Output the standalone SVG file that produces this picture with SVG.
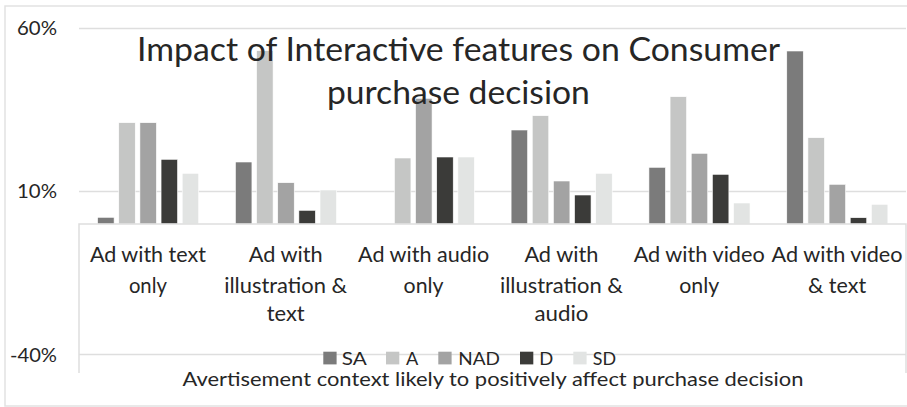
<svg xmlns="http://www.w3.org/2000/svg" width="907" height="407" viewBox="0 0 907 407">
<style>
  .frame{fill:none;stroke:#e2e2e2;stroke-width:1.5}
  .grid{stroke:#dedede;stroke-width:1.5;fill:none}
  .t{font-family:Lato,"Liberation Sans",sans-serif;fill:#262626}
  .title{font-size:32px;text-anchor:middle}
  .ax{font-size:18.5px;text-anchor:end}
  .cat{font-size:21px;text-anchor:middle}
  .leg{font-size:17.5px}
  .sa{fill:#7b7b7b}
  .a{fill:#c5c6c5}
  .nad{fill:#a3a3a3}
  .d{fill:#3b3b39}
  .sd{fill:#e2e4e3}
  .bar{stroke:#ffffff;stroke-width:0.6}
</style>
<rect x="0" y="0" width="907" height="407" fill="#ffffff"/>
<rect class="frame" x="5" y="6" width="910" height="400"/>

<g id="gridlines">
  <line class="grid" x1="79" y1="28.5" x2="906" y2="28.5"/>
  <line class="grid" x1="79" y1="191.5" x2="906" y2="191.5"/>
</g>

<g id="axis-labels">
  <text class="t ax" x="57" y="35" textLength="40" lengthAdjust="spacingAndGlyphs">60%</text>
  <text class="t ax" x="57" y="198.3" textLength="40" lengthAdjust="spacingAndGlyphs">10%</text>
  <text class="t ax" x="57" y="361.7" textLength="47" lengthAdjust="spacingAndGlyphs">-40%</text>
</g>

<g id="bars">
  <g id="cat-text-only">
    <rect class="bar sa" x="97.6" y="217.3" width="16.5" height="6.7"/>
    <rect class="bar a" x="118.75" y="122.7" width="16.5" height="101.3"/>
    <rect class="bar nad" x="139.9" y="122.7" width="16.5" height="101.3"/>
    <rect class="bar d" x="161.05" y="159.3" width="16.5" height="64.7"/>
    <rect class="bar sd" x="182.2" y="173.3" width="16.5" height="50.7"/>
  </g>
  <g id="cat-illustration-text">
    <rect class="bar sa" x="235.43" y="162" width="16.5" height="62"/>
    <rect class="bar a" x="256.58" y="50.7" width="16.5" height="173.3"/>
    <rect class="bar nad" x="277.73" y="182.7" width="16.5" height="41.3"/>
    <rect class="bar d" x="298.88" y="210.3" width="16.5" height="13.7"/>
    <rect class="bar sd" x="320.03" y="190" width="16.5" height="34"/>
  </g>
  <g id="cat-audio-only">
    <rect class="bar a" x="394.42" y="158" width="16.5" height="66"/>
    <rect class="bar nad" x="415.57" y="98.3" width="16.5" height="125.7"/>
    <rect class="bar d" x="436.72" y="157" width="16.5" height="67"/>
    <rect class="bar sd" x="457.87" y="157" width="16.5" height="67"/>
  </g>
  <g id="cat-illustration-audio">
    <rect class="bar sa" x="511.1" y="130" width="16.5" height="94"/>
    <rect class="bar a" x="532.25" y="115.7" width="16.5" height="108.3"/>
    <rect class="bar nad" x="553.4" y="181" width="16.5" height="43"/>
    <rect class="bar d" x="574.55" y="195" width="16.5" height="29"/>
    <rect class="bar sd" x="595.7" y="173.3" width="16.5" height="50.7"/>
  </g>
  <g id="cat-video-only">
    <rect class="bar sa" x="648.93" y="167.3" width="16.5" height="56.7"/>
    <rect class="bar a" x="670.08" y="96.7" width="16.5" height="127.3"/>
    <rect class="bar nad" x="691.23" y="153.3" width="16.5" height="70.7"/>
    <rect class="bar d" x="712.38" y="174.3" width="16.5" height="49.7"/>
    <rect class="bar sd" x="733.53" y="203" width="16.5" height="21"/>
  </g>
  <g id="cat-video-text">
    <rect class="bar sa" x="786.77" y="51" width="16.5" height="173"/>
    <rect class="bar a" x="807.92" y="137.7" width="16.5" height="86.3"/>
    <rect class="bar nad" x="829.07" y="184.3" width="16.5" height="39.7"/>
    <rect class="bar d" x="850.22" y="217.7" width="16.5" height="6.3"/>
    <rect class="bar sd" x="871.37" y="204.3" width="16.5" height="19.7"/>
  </g>
</g>

<g id="title">
  <text class="t title" x="458.6" y="61" textLength="643" lengthAdjust="spacingAndGlyphs">Impact of Interactive features on Consumer</text>
  <text class="t title" x="458.4" y="104" textLength="263" lengthAdjust="spacingAndGlyphs">purchase decision</text>
</g>

<g id="category-box">
  <rect x="79" y="224" width="827" height="149" fill="#ffffff"/>
  <path class="grid" d="M79,373 V224 H906 V373"/>
  <line class="grid" x1="79" y1="354.5" x2="906" y2="354.5"/>
</g>

<g id="category-labels">
  <text class="t cat" x="147.9" y="261.7" textLength="116" lengthAdjust="spacingAndGlyphs">Ad with text</text>
  <text class="t cat" x="147.9" y="292.7" textLength="38" lengthAdjust="spacingAndGlyphs">only</text>

  <text class="t cat" x="285.7" y="261.7" textLength="74" lengthAdjust="spacingAndGlyphs">Ad with</text>
  <text class="t cat" x="285.7" y="292.7" textLength="123" lengthAdjust="spacingAndGlyphs">illustration &amp;</text>
  <text class="t cat" x="285.7" y="320.5" textLength="38" lengthAdjust="spacingAndGlyphs">text</text>

  <text class="t cat" x="423.6" y="261.7" textLength="131" lengthAdjust="spacingAndGlyphs">Ad with audio</text>
  <text class="t cat" x="423.6" y="292.7" textLength="40" lengthAdjust="spacingAndGlyphs">only</text>

  <text class="t cat" x="561.4" y="261.7" textLength="74" lengthAdjust="spacingAndGlyphs">Ad with</text>
  <text class="t cat" x="561.4" y="292.7" textLength="123" lengthAdjust="spacingAndGlyphs">illustration &amp;</text>
  <text class="t cat" x="561.4" y="320.5" textLength="54" lengthAdjust="spacingAndGlyphs">audio</text>

  <text class="t cat" x="699.2" y="261.7" textLength="131" lengthAdjust="spacingAndGlyphs">Ad with video</text>
  <text class="t cat" x="699.2" y="292.7" textLength="40" lengthAdjust="spacingAndGlyphs">only</text>

  <text class="t cat" x="837.1" y="261.7" textLength="131" lengthAdjust="spacingAndGlyphs">Ad with video</text>
  <text class="t cat" x="837.1" y="292.7" textLength="58" lengthAdjust="spacingAndGlyphs">&amp; text</text>
</g>

<g id="legend">
  <rect class="sa" x="323.3" y="351.7" width="13.3" height="12.7"/>
  <text class="t leg" x="341.7" y="364.5" textLength="25" lengthAdjust="spacingAndGlyphs">SA</text>
  <rect class="a" x="386" y="351.7" width="13.3" height="12.7"/>
  <text class="t leg" x="406" y="364.5" textLength="12.3" lengthAdjust="spacingAndGlyphs">A</text>
  <rect class="nad" x="438.3" y="351.7" width="13.3" height="12.7"/>
  <text class="t leg" x="458.3" y="364.5" textLength="41.7" lengthAdjust="spacingAndGlyphs">NAD</text>
  <rect class="d" x="520" y="351.7" width="13.3" height="12.7"/>
  <text class="t leg" x="539.3" y="364.5" textLength="14" lengthAdjust="spacingAndGlyphs">D</text>
  <rect class="sd" x="573.3" y="351.7" width="13.3" height="12.7"/>
  <text class="t leg" x="592.7" y="364.5" textLength="23.3" lengthAdjust="spacingAndGlyphs">SD</text>
</g>

<g id="axis-title">
  <text class="t" x="182.5" y="385.5" font-size="19" textLength="621" lengthAdjust="spacingAndGlyphs">Avertisement context likely to positively affect purchase decision</text>
</g>
</svg>
